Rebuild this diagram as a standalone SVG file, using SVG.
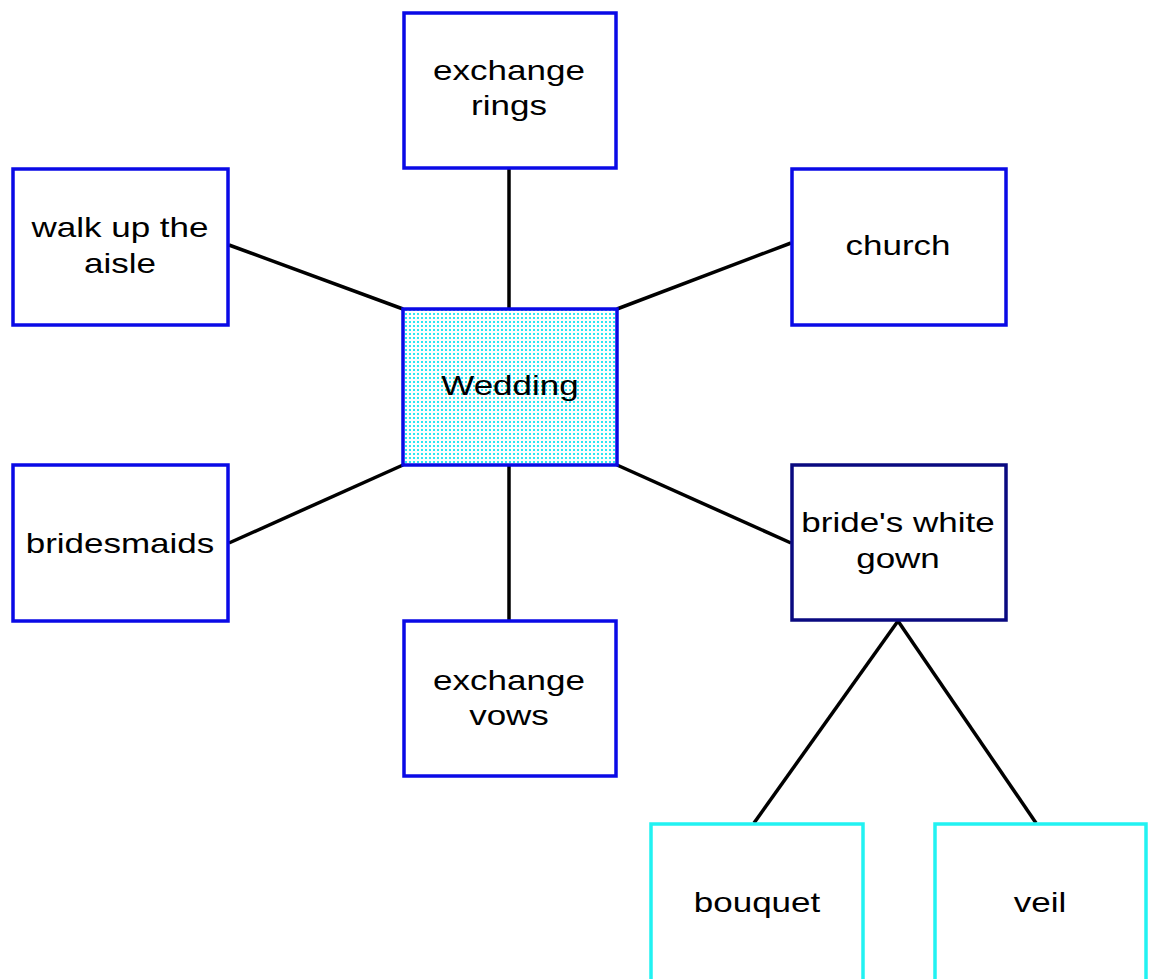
<svg xmlns="http://www.w3.org/2000/svg" width="1156" height="979" viewBox="0 0 1156 979">
<style>
.box{fill:#fff;stroke:#0a0ae6;stroke-width:3.5}
.navy{stroke:#0a0a80}
.cyan{stroke:#22f2f2}
.lbl{font-family:"Liberation Sans",Arial,sans-serif;font-size:28px;fill:#000;text-anchor:middle}
.conn line{stroke:#000;stroke-width:3.5}
</style>
<defs>
<pattern id="dots" width="4" height="4" patternUnits="userSpaceOnUse">
<rect width="4" height="4" fill="#ffffff"/>
<rect x="1" y="1" width="2" height="2" fill="#2ee6f2"/>
</pattern>
</defs>
<rect width="1156" height="979" fill="#fff"/>
<g id="connectors" class="conn">
<line x1="509" y1="168" x2="509" y2="309"/>
<line x1="229" y1="245" x2="403" y2="309"/>
<line x1="791" y1="243" x2="617" y2="309"/>
<line x1="229" y1="543" x2="403" y2="465"/>
<line x1="509" y1="465" x2="509" y2="621"/>
<line x1="617" y1="465" x2="791" y2="543"/>
<line x1="898" y1="621" x2="754" y2="823"/>
<line x1="898" y1="621" x2="1036" y2="823"/>
</g>
<g id="wedding">
<rect x="403" y="309" width="214" height="156" fill="url(#dots)" stroke="#0a0ae6" stroke-width="3.5"/>
<text class="lbl" transform="translate(510,395) scale(1.25,1)">Wedding</text>
</g>
<g id="exchange-rings">
<rect class="box" x="404" y="13" width="212" height="155"/>
<text class="lbl" transform="translate(509,80) scale(1.25,1)">exchange</text>
<text class="lbl" transform="translate(509,115) scale(1.25,1)">rings</text>
</g>
<g id="walk-up-the-aisle">
<rect class="box" x="13" y="169" width="215" height="156"/>
<text class="lbl" transform="translate(120,237) scale(1.25,1)">walk up the</text>
<text class="lbl" transform="translate(120,273) scale(1.25,1)">aisle</text>
</g>
<g id="church">
<rect class="box" x="792" y="169" width="214" height="156"/>
<text class="lbl" transform="translate(898,255) scale(1.25,1)">church</text>
</g>
<g id="bridesmaids">
<rect class="box" x="13" y="465" width="215" height="156"/>
<text class="lbl" transform="translate(120,553) scale(1.25,1)">bridesmaids</text>
</g>
<g id="brides-white-gown">
<rect class="box navy" x="792" y="465" width="214" height="155"/>
<text class="lbl" transform="translate(898,532) scale(1.25,1)">bride's white</text>
<text class="lbl" transform="translate(898,568) scale(1.25,1)">gown</text>
</g>
<g id="exchange-vows">
<rect class="box" x="404" y="621" width="212" height="155"/>
<text class="lbl" transform="translate(509,690) scale(1.25,1)">exchange</text>
<text class="lbl" transform="translate(509,725) scale(1.25,1)">vows</text>
</g>
<g id="bouquet">
<rect class="box cyan" x="651" y="824" width="212" height="160"/>
<text class="lbl" transform="translate(757,912) scale(1.25,1)">bouquet</text>
</g>
<g id="veil">
<rect class="box cyan" x="935" y="824" width="211" height="160"/>
<text class="lbl" transform="translate(1040,912) scale(1.25,1)">veil</text>
</g>
</svg>
